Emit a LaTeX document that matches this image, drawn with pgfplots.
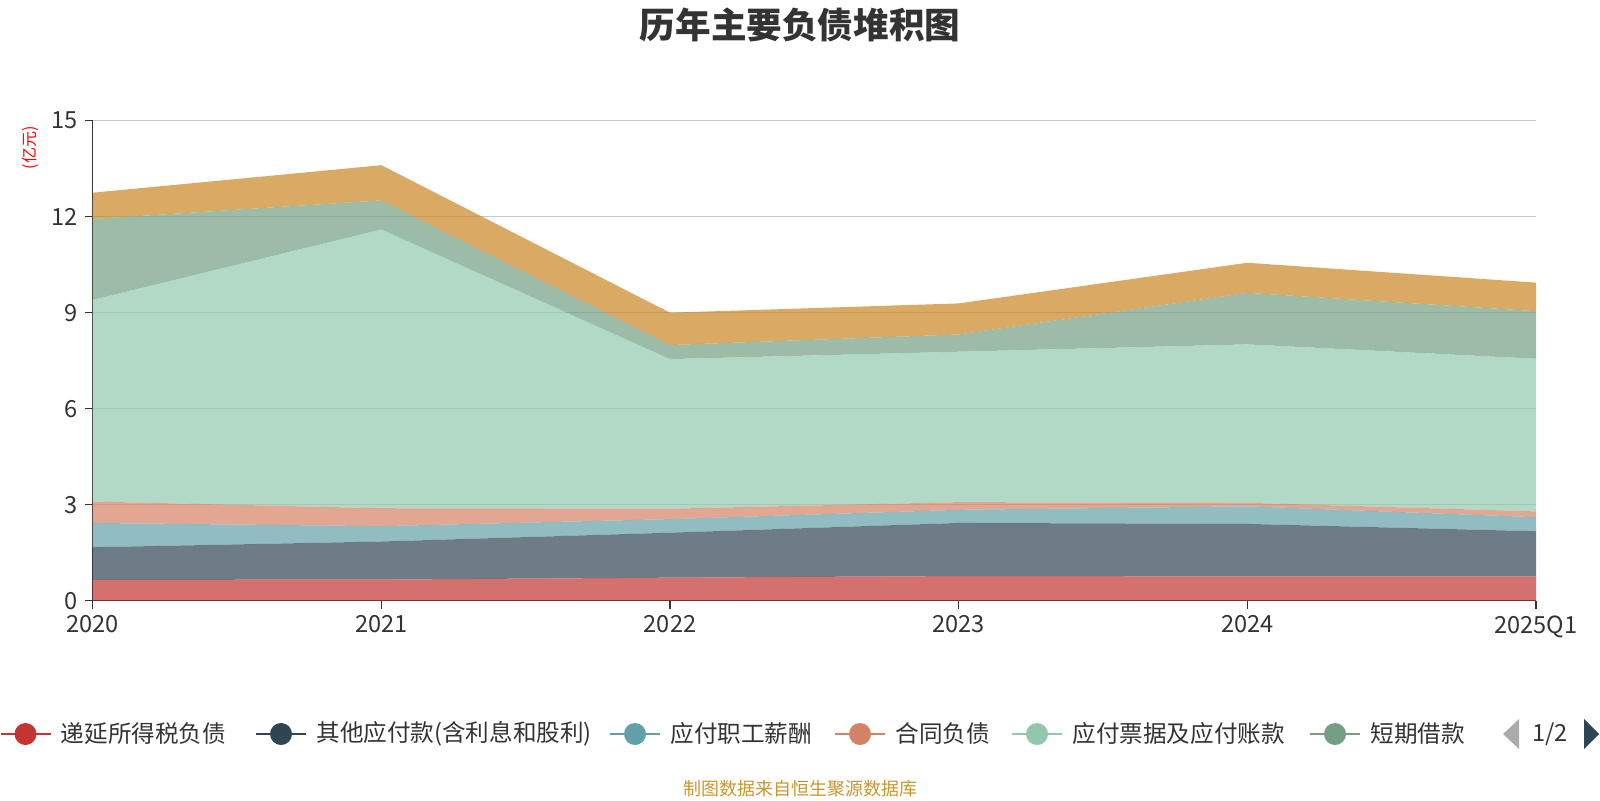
\documentclass[border=0pt]{standalone}
\usepackage{pgfplots}
\pgfplotsset{compat=1.18}
\usepackage{fontspec}
\setmainfont{Noto Sans CJK SC}
\definecolor{c1}{HTML}{C23531}
\definecolor{c2}{HTML}{2F4554}
\definecolor{c3}{HTML}{61A0A8}
\definecolor{c4}{HTML}{D48265}
\definecolor{c5}{HTML}{91C7AE}
\definecolor{c6}{HTML}{749F83}
\definecolor{c7}{HTML}{CA8622}
\definecolor{txt}{HTML}{333333}
\definecolor{foot}{HTML}{C8962E}
\begin{document}
\begin{tikzpicture}
\useasboundingbox (0,0) rectangle (800pt,400pt);
\begin{axis}[
  at={(46.35pt,99.65pt)}, anchor=south west,
  scale only axis, width=721.65pt, height=240pt,
  xmin=0, xmax=5, ymin=0, ymax=15,
  xtick={0,1,2,3,4,5},
  xticklabels={2020,2021,2022,2023,2024,2025Q1},
  ytick={0,3,6,9,12,15},
  axis x line*=bottom, axis y line*=left,
  axis line style={-, color=txt, line width=0.6pt},
  ymajorgrids, grid style={color=black!22, line width=0.6pt},
  tick style={color=txt, line width=0.6pt},
  tick align=outside, major tick length=4pt,
  ticklabel style={font=\fontsize{11.8}{13}\selectfont, text=txt},
  /pgf/number format/assume math mode=true,
  stack plots=y,
  clip=false,
]
\addplot[fill=c1, fill opacity=0.7, draw=none] coordinates {(0,0.65) (1,0.66) (2,0.72) (3,0.77) (4,0.76) (5,0.76)} \closedcycle;
\addplot[fill=c2, fill opacity=0.7, draw=none] coordinates {(0,1.02) (1,1.19) (2,1.405) (3,1.66) (4,1.64) (5,1.41)} \closedcycle;
\addplot[fill=c3, fill opacity=0.7, draw=none] coordinates {(0,0.76) (1,0.48) (2,0.425) (3,0.41) (4,0.55) (5,0.44)} \closedcycle;
\addplot[fill=c4, fill opacity=0.7, draw=none] coordinates {(0,0.67) (1,0.56) (2,0.325) (3,0.24) (4,0.11) (5,0.18)} \closedcycle;
\addplot[fill=c5, fill opacity=0.7, draw=none] coordinates {(0,6.30) (1,8.71) (2,4.675) (3,4.70) (4,4.95) (5,4.77)} \closedcycle;
\addplot[fill=c6, fill opacity=0.7, draw=none] coordinates {(0,2.53) (1,0.91) (2,0.44) (3,0.54) (4,1.61) (5,1.49)} \closedcycle;
\addplot[fill=c7, fill opacity=0.7, draw=none] coordinates {(0,0.82) (1,1.10) (2,1.01) (3,0.97) (4,0.94) (5,0.89)} \closedcycle;
\end{axis}
% title
\node[font=\fontsize{17.8}{20}\selectfont\bfseries, text=txt] at (400pt,387.5pt) {历年主要负债堆积图};
% y unit label
\node[font=\fontsize{8}{9}\selectfont, text=red, rotate=90] at (15.3pt,326pt) {(亿元)};
% legend
\foreach \cx/\col/\lab in {12.75/c1/递延所得税负债, 140.5/c2/其他应付款(含利息和股利), 317.5/c3/应付职工薪酬, 430/c4/合同负债, 518.5/c5/应付票据及应付账款, 667.5/c6/短期借款}{
  \draw[\col, line width=1pt] (\cx pt-12.5pt,33pt) -- (\cx pt+12.5pt,33pt);
  \fill[\col] (\cx pt,33pt) circle (5.5pt);
  \node[anchor=west, inner sep=0pt, font=\fontsize{11.8}{13}\selectfont, text=txt] at (\cx pt+17.5pt,33pt) {\lab};
}
% pager
\fill[black!33] (751.5pt,33pt) -- (759.5pt,40.5pt) -- (759.5pt,25.5pt) -- cycle;
\node[font=\fontsize{11.8}{13}\selectfont, text=txt] at (775pt,33pt) {1/2};
\fill[c2] (799.5pt,33pt) -- (792pt,40.5pt) -- (792pt,25.5pt) -- cycle;
% footer
\node[font=\fontsize{9}{10}\selectfont, text=foot] at (400pt,5.5pt) {制图数据来自恒生聚源数据库};
\end{tikzpicture}
\end{document}
